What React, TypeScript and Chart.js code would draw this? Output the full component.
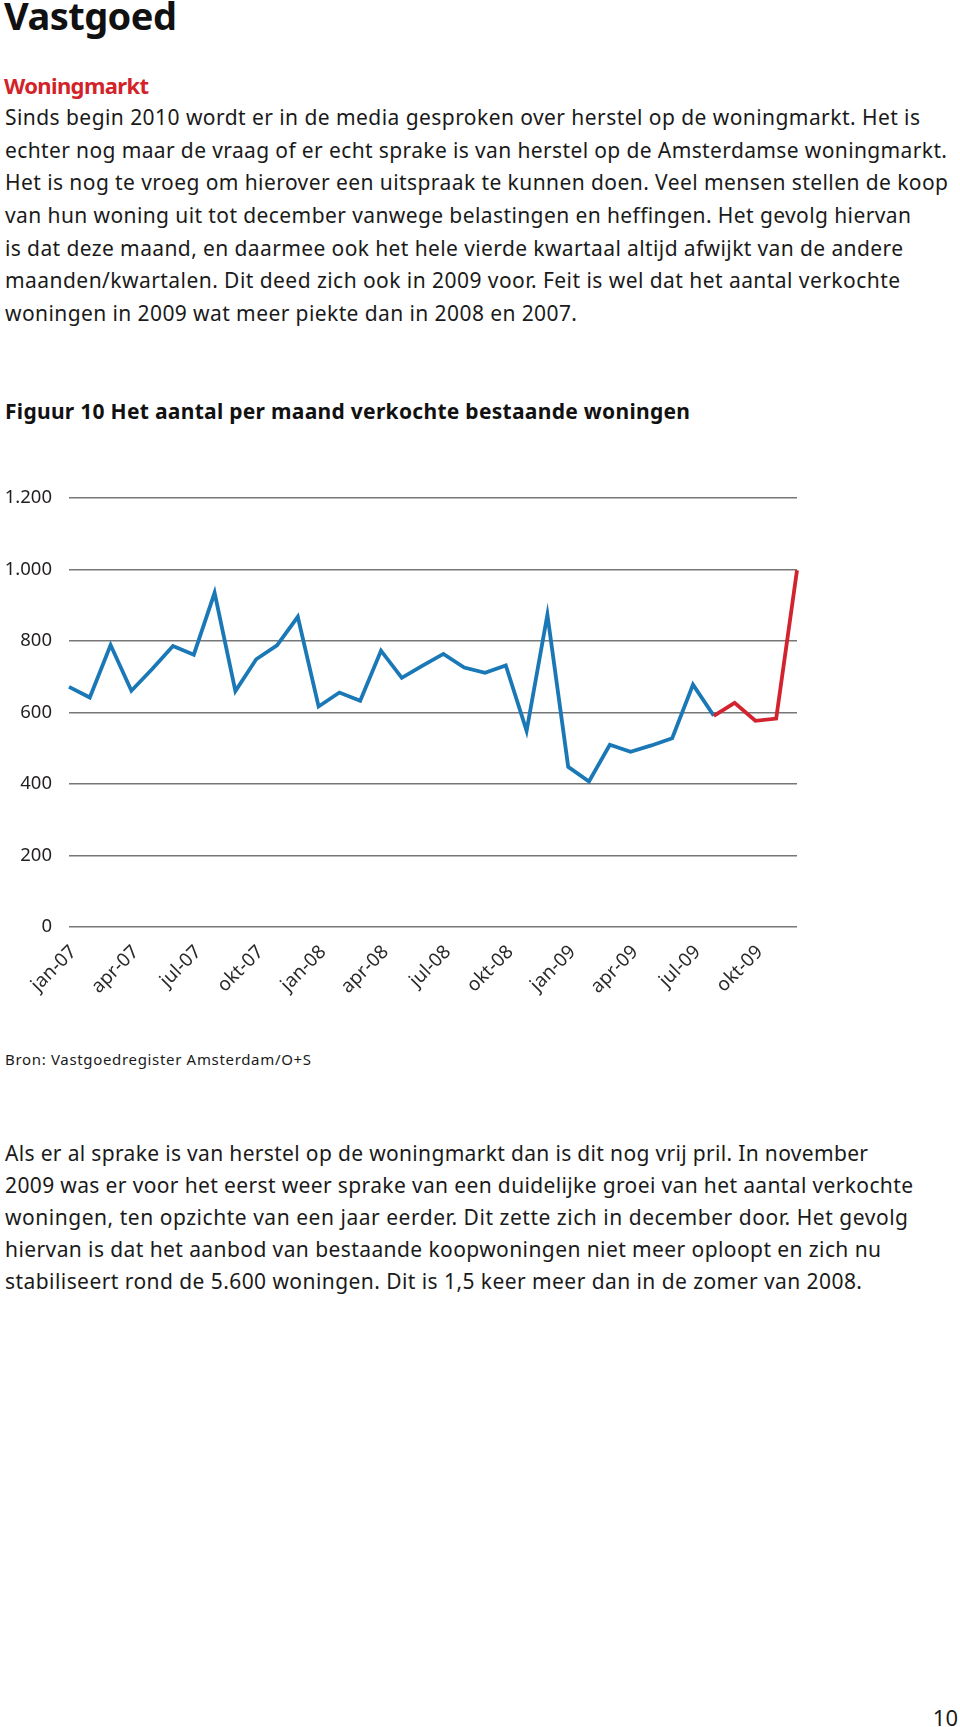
import React, { useEffect, useRef } from 'react';
import { Chart, registerables } from 'chart.js';

Chart.register(...registerables);

// ---------- data ----------
const months = [
  'jan-07', 'feb-07', 'mrt-07', 'apr-07', 'mei-07', 'jun-07', 'jul-07', 'aug-07', 'sep-07', 'okt-07', 'nov-07', 'dec-07',
  'jan-08', 'feb-08', 'mrt-08', 'apr-08', 'mei-08', 'jun-08', 'jul-08', 'aug-08', 'sep-08', 'okt-08', 'nov-08', 'dec-08',
  'jan-09', 'feb-09', 'mrt-09', 'apr-09', 'mei-09', 'jun-09', 'jul-09', 'aug-09', 'sep-09', 'okt-09', 'nov-09', 'dec-09',
];
const labelEvery = 3;

// jan-07 .. aug-09 (blue)
const blueValues = [
  672, 642, 789, 661, 722, 786, 762, 935, 660, 749, 788, 868,
  617, 656, 633, 773, 697, 731, 764, 726, 711, 732, 549, 874,
  448, 407, 510, 490, 508, 528, 678, 591,
];
// aug-09 .. dec-09 (red)
const redStartMonth = 'aug-09';
const redValues = [591, 627, 577, 583, 998];

const yTickLabels = ['0', '200', '400', '600', '800', '1.000', '1.200'];
const yStep = 200;
const yMax = 1200;

// ---------- text ----------
const title = 'Vastgoed';
const subTitle = 'Woningmarkt';
const para1 = [
  'Sinds begin 2010 wordt er in de media gesproken over herstel op de woningmarkt. Het is',
  'echter nog maar de vraag of er echt sprake is van herstel op de Amsterdamse woningmarkt.',
  'Het is nog te vroeg om hierover een uitspraak te kunnen doen. Veel mensen stellen de koop',
  'van hun woning uit tot december vanwege belastingen en heffingen. Het gevolg hiervan',
  'is dat deze maand, en daarmee ook het hele vierde kwartaal altijd afwijkt van de andere',
  'maanden/kwartalen. Dit deed zich ook in 2009 voor. Feit is wel dat het aantal verkochte',
  'woningen in 2009 wat meer piekte dan in 2008 en 2007.',
];
const figTitle = 'Figuur 10 Het aantal per maand verkochte bestaande woningen';
const source = 'Bron: Vastgoedregister Amsterdam/O+S';
const para2 = [
  'Als er al sprake is van herstel op de woningmarkt dan is dit nog vrij pril. In november',
  '2009 was er voor het eerst weer sprake van een duidelijke groei van het aantal verkochte',
  'woningen, ten opzichte van een jaar eerder. Dit zette zich in december door. Het gevolg',
  'hiervan is dat het aanbod van bestaande koopwoningen niet meer oploopt en zich nu',
  'stabiliseert rond de 5.600 woningen. Dit is 1,5 keer meer dan in de zomer van 2008.',
];
const pageNumber = '10';

// ---------- layout (presentation only) ----------
const FONT = '"Noto Sans"';
const para1Widths = [915, 942, 943, 906, 898, 895, 572];
const para2Widths = [863, 908, 903, 876, 857];

let measureCtx: CanvasRenderingContext2D | null = null;
function measure(text: string, font: string) {
  if (!measureCtx) measureCtx = document.createElement('canvas').getContext('2d');
  measureCtx!.font = font;
  return measureCtx!.measureText(text).width;
}

function Line(props: {
  text: string; x?: number; right?: number; baseline: number; size: number;
  weight?: number; color?: string; width?: number;
}) {
  const { text, x, right, baseline, size, weight = 400, color = '#1a1a1a', width } = props;
  const lh = Math.round(size * 1.5);
  const top = baseline - (lh / 2 + 0.388 * size);
  let ls = 0;
  if (width) {
    const w = measure(text, `${weight} ${size}px ${FONT}`);
    ls = (width - w) / Math.max(1, text.length - 1);
  }
  const style: React.CSSProperties = {
    position: 'absolute', top, fontFamily: `${FONT}, sans-serif`, fontSize: size,
    fontWeight: weight, lineHeight: `${lh}px`, color, letterSpacing: ls, whiteSpace: 'nowrap',
  };
  if (right !== undefined) style.right = right; else style.left = x;
  return <div style={style}>{text}</div>;
}

function LineChart() {
  const ref = useRef<HTMLCanvasElement | null>(null);
  useEffect(() => {
    if (!ref.current) return;
    const redStart = months.indexOf(redStartMonth);
    const blueData = months.map((_, i) => (i < blueValues.length ? blueValues[i] : null));
    const redData = months.map((_, i) => (i >= redStart ? redValues[i - redStart] : null));
    const chart = new Chart(ref.current, {
      type: 'line',
      data: {
        labels: months,
        datasets: [
          { data: redData, borderColor: '#d2232f', borderWidth: 3.8, pointRadius: 0, tension: 0, spanGaps: false },
          { data: blueData, borderColor: '#1b78b6', borderWidth: 3.8, pointRadius: 0, tension: 0, spanGaps: false },
        ],
      },
      options: {
        animation: false,
        responsive: false,
        devicePixelRatio: 1,
        layout: { padding: { top: 27, right: 33, left: 0, bottom: 0 } },
        plugins: { legend: { display: false }, tooltip: { enabled: false } },
        elements: { line: { borderJoinStyle: 'miter', borderCapStyle: 'butt' } },
        scales: {
          x: {
            offset: false,
            grid: { display: false, drawTicks: false },
            border: { display: false },
            ticks: {
              autoSkip: false, minRotation: 45, maxRotation: 45, padding: 14, labelOffset: 4.5,
              color: '#2a2a2a', font: { family: 'Noto Sans', size: 19 },
              callback: (_v: any, i: number) => (i % labelEvery === 0 ? months[i] : ''),
            },
            afterFit: (s: any) => { s.height = 103; },
          },
          y: {
            min: 0, max: yMax,
            grid: { color: '#777777', lineWidth: 1.5, drawTicks: false },
            border: { display: false },
            ticks: {
              stepSize: yStep, padding: 17, color: '#231f20',
              font: { family: 'Noto Sans', size: 18.5 },
              callback: (v: any) => yTickLabels[Math.round(Number(v) / yStep)],
            },
            afterFit: (s: any) => { s.width = 69; },
          },
        },
      } as any,
    });
    return () => chart.destroy();
  }, []);
  return (
    <canvas ref={ref} width={830} height={560}
      style={{ position: 'absolute', left: 0, top: 470, width: 830, height: 560 }} />
  );
}

export default function App() {
  return (
    <div style={{ position: 'absolute', left: 0, top: 0, width: 960, height: 1727, overflow: 'hidden', background: '#fff' }}>
      <Line text={title} x={4} baseline={30} size={38} weight={700} color="#111" width={173} />
      <Line text={subTitle} x={4} baseline={94} size={22} weight={700} color="#d2232a" width={145} />
      {para1.map((t, i) => (
        <Line key={'p1' + i} text={t} x={5} baseline={125 + i * 32.7} size={21} width={para1Widths[i]} />
      ))}
      <Line text={figTitle} x={5} baseline={419} size={21} weight={700} color="#111" width={685} />
      <LineChart />
      <Line text={source} x={5} baseline={1065} size={15} width={306} />
      {para2.map((t, i) => (
        <Line key={'p2' + i} text={t} x={5} baseline={1161 + i * 32} size={21} width={para2Widths[i]} />
      ))}
      <Line text={pageNumber} right={2} baseline={1726} size={22} />
    </div>
  );
}
